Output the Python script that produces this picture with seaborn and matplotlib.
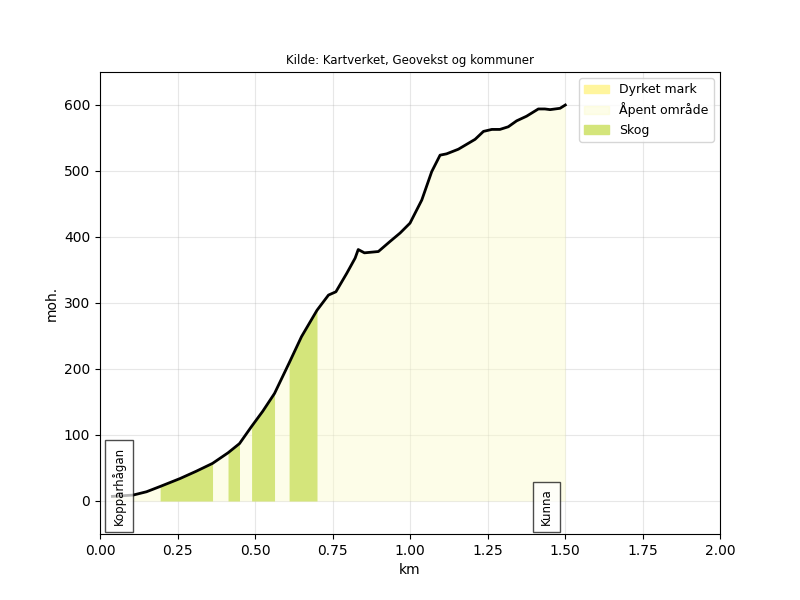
import numpy as np
import matplotlib
matplotlib.use('Agg')
import matplotlib.pyplot as plt
import matplotlib.patches as mpatches
import seaborn as sns

# elevation profile (km, metres above sea level)
km = [0.04, 0.107, 0.15, 0.194, 0.258, 0.31, 0.363, 0.413, 0.45, 0.489, 0.525,
      0.563, 0.61, 0.65, 0.70, 0.737, 0.761, 0.796, 0.823, 0.833, 0.853, 0.898,
      0.935, 0.968, 1.0, 1.038, 1.07, 1.097, 1.118, 1.156, 1.21, 1.237, 1.264,
      1.29, 1.317, 1.344, 1.376, 1.414, 1.435, 1.452, 1.484, 1.501]
elev = [7, 9, 14, 22, 34, 45, 57, 73, 87, 113, 136,
        163, 209, 249, 289, 312, 317, 345, 368, 381, 376, 378,
        393, 406, 421, 456, 499, 524, 526, 533, 548, 560, 563,
        563, 567, 576, 583, 594, 594, 593, 595, 600]

# land use segments along the route
seg_start = [0.04, 0.194, 0.413, 0.489, 0.61]
seg_end = [1.501, 0.363, 0.45, 0.563, 0.70]
seg_type = ['Åpent område', 'Skog', 'Skog', 'Skog', 'Skog']

# named places
place_names = ['Kopparhågan', 'Kunna']
place_km = [0.06, 1.44]

colors = {'Dyrket mark': '#fff59d', 'Åpent område': '#fbfbcc', 'Skog': '#d4e57b'}
alphas = {'Dyrket mark': 1.0, 'Åpent område': 0.45, 'Skog': 1.0}

km = np.array(km)
elev = np.array(elev)

fig, ax = plt.subplots(figsize=(8, 6), dpi=100)

for a, b, t in zip(seg_start, seg_end, seg_type):
    mask = (km >= a - 1e-9) & (km <= b + 1e-9)
    ax.fill_between(km, 0, elev, where=mask, color=colors[t], alpha=alphas[t],
                    linewidth=0, zorder=1 if t == 'Åpent område' else 2)

sns.lineplot(x=km, y=elev, color='black', linewidth=2, sort=False, ax=ax, zorder=3)

for name, x in zip(place_names, place_km):
    ax.text(x, -37, name, rotation=90, ha='center', va='bottom', fontsize=8.5, zorder=4,
            bbox=dict(facecolor='white', edgecolor='black', alpha=0.7, pad=5))

ax.set_xlim(0, 2)
ax.set_ylim(-50, 650)
ax.grid(True, alpha=0.3)
ax.set_axisbelow(True)
ax.set_xlabel('km')
ax.set_ylabel('moh.')
ax.set_title('Kilde: Kartverket, Geovekst og kommuner', fontsize=8.5)

handles = [mpatches.Patch(color=colors[t], alpha=alphas[t], label=t)
           for t in ['Dyrket mark', 'Åpent område', 'Skog']]
ax.legend(handles=handles, loc='upper right', fontsize=9)

plt.savefig('out.png', dpi=100)
